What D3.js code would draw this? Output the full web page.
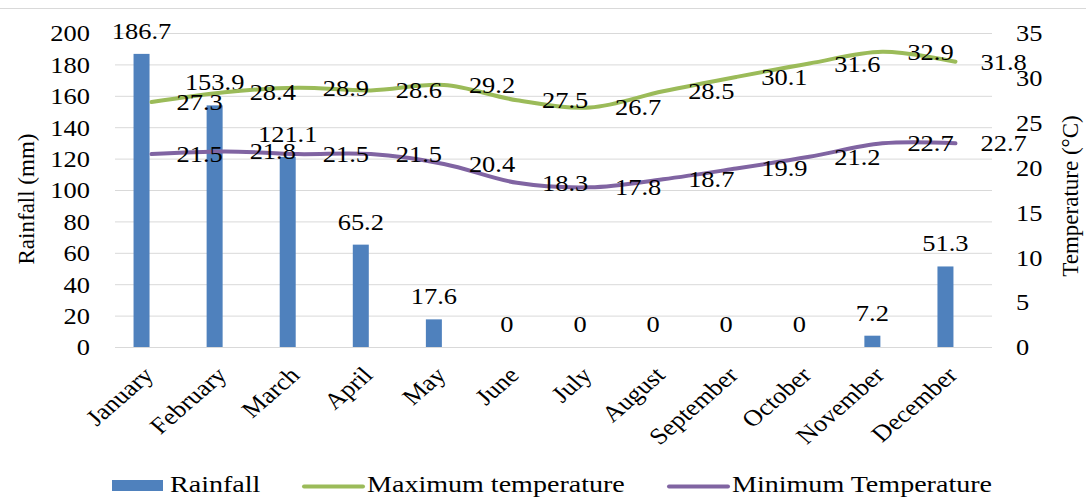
<!DOCTYPE html>
<html>
<head>
<meta charset="utf-8">
<script src="https://cdn.jsdelivr.net/npm/d3@7"></script>
<style>
  body { margin: 0; background: #fff; }
  svg { display: block; }
  svg text { font-family: "Liberation Serif", Tinos, "Times New Roman", "DejaVu Serif", serif; fill: #000; }
</style>
</head>
<body>
<svg id="chart" width="1086" height="497"></svg>
<script>
// Monthly climate data
const months = ["January", "February", "March", "April", "May", "June",
                "July", "August", "September", "October", "November", "December"];
const rainfall = [186.7, 153.9, 121.1, 65.2, 17.6, 0, 0, 0, 0, 0, 7.2, 51.3];
const maxTemp  = [27.3, 28.4, 28.9, 28.6, 29.2, 27.5, 26.7, 28.5, 30.1, 31.6, 32.9, 31.8];
const minTemp  = [21.5, 21.8, 21.5, 21.5, 20.4, 18.3, 17.8, 18.7, 19.9, 21.2, 22.7, 22.7];
const rainTicks = [0, 20, 40, 60, 80, 100, 120, 140, 160, 180, 200];
const tempTicks = [0, 5, 10, 15, 20, 25, 30, 35];

const FONT = '"Liberation Serif", Tinos, "Times New Roman", "DejaVu Serif", serif';
const FS = 23;      // font size
const SX = 1.15;    // horizontal stretch of the typeface
const colors = { rain: "#4F81BD", max: "#9BBB59", min: "#8064A2", grid: "#D9D9D9" };

const svg = d3.select("#chart");
const plotL = 115, plotR = 992, plotT = 33, plotB = 347;

const x = d3.scaleBand().domain(months).range([plotL, plotR]);
const cx = m => x(m) + x.bandwidth() / 2;
const yR = d3.scaleLinear().domain([0, 200]).range([plotB, plotT]);
const yT = d3.scaleLinear().domain([0, 35]).range([plotB, plotT]);

// outer frame line at the top
svg.append("line").attr("x1", 0).attr("x2", 1086).attr("y1", 8.5).attr("y2", 8.5)
  .attr("stroke", colors.grid).attr("stroke-width", 1);

// horizontal gridlines
svg.append("g").attr("transform", `translate(${plotL},0)`)
  .call(d3.axisLeft(yR).tickValues(rainTicks).tickSize(-(plotR - plotL)).tickFormat(""))
  .call(g => g.select(".domain").remove())
  .call(g => g.selectAll("line").attr("stroke", colors.grid));

// helper for stretched horizontal text
function label(parent, tx, ty, str, anchor, sx = SX) {
  return parent.append("text")
    .attr("transform", `translate(${tx},${ty}) scale(${sx},1)`)
    .attr("text-anchor", anchor)
    .attr("font-family", FONT)
    .attr("font-size", FS)
    .text(str);
}

// left axis
svg.append("g").attr("transform", `translate(${plotL},0)`)
  .call(d3.axisLeft(yR).tickValues(rainTicks).tickSize(0).tickPadding(25))
  .attr("font-family", FONT)
  .call(g => g.select(".domain").remove())
  .call(g => g.selectAll("text")
    .attr("font-size", FS)
    .attr("dy", "0.34em")
    .attr("x", -25 / SX)
    .attr("transform", `scale(${SX},1)`));

// right axis
svg.append("g").attr("transform", `translate(${plotR},0)`)
  .call(d3.axisRight(yT).tickValues(tempTicks).tickSize(0).tickPadding(24))
  .attr("font-family", FONT)
  .call(g => g.select(".domain").remove())
  .call(g => g.selectAll("text")
    .attr("font-size", FS)
    .attr("dy", "0.34em")
    .attr("x", 24 / SX)
    .attr("transform", `scale(${SX},1)`));

// category axis (rotated month names)
svg.append("g").attr("transform", `translate(0,${plotB})`)
  .call(d3.axisBottom(x).tickSize(0))
  .attr("font-family", FONT)
  .call(g => g.select(".domain").remove())
  .call(g => g.selectAll("text")
    .attr("font-size", FS)
    .attr("text-anchor", "end")
    .attr("x", null).attr("y", null).attr("dy", "0.34em")
    .attr("transform", `translate(-3,24) scale(${SX},1) rotate(-45)`));

// axis titles
svg.append("text")
  .attr("transform", `translate(34,199) rotate(-90)`)
  .attr("font-family", FONT)
  .attr("text-anchor", "middle").attr("font-size", FS).text("Rainfall (mm)");
svg.append("text")
  .attr("transform", `translate(1078,196) rotate(-90)`)
  .attr("font-family", FONT)
  .attr("text-anchor", "middle").attr("font-size", FS).text("Temperature (°C)");

// rainfall bars
const barW = 16, barShift = -10;
svg.append("g").selectAll("rect").data(months).join("rect")
  .attr("x", (m) => cx(m) + barShift - barW / 2)
  .attr("width", barW)
  .attr("y", (m, i) => yR(rainfall[i]))
  .attr("height", (m, i) => plotB - yR(rainfall[i]))
  .attr("fill", colors.rain);

const barLabels = svg.append("g");
months.forEach((m, i) => {
  label(barLabels, cx(m) + barShift, yR(rainfall[i]) - 23 + 8, String(rainfall[i]), "middle");
});

// temperature lines
const line = d3.line().x((d, i) => cx(months[i])).y(d => yT(d)).curve(d3.curveCatmullRom.alpha(0.5));
[[maxTemp, colors.max], [minTemp, colors.min]].forEach(([vals, col]) => {
  svg.append("path").datum(vals)
    .attr("d", line)
    .attr("fill", "none")
    .attr("stroke", col)
    .attr("stroke-width", 4)
    .attr("stroke-linecap", "round")
    .attr("stroke-linejoin", "round");
});

const tempLabels = svg.append("g");
[maxTemp, minTemp].forEach(vals => {
  months.forEach((m, i) => {
    label(tempLabels, cx(m) + 25, yT(vals[i]) + 8, String(vals[i]), "start");
  });
});

// legend
const LSX = 1.22;
const lg = svg.append("g");
lg.append("rect").attr("x", 112).attr("y", 480).attr("width", 51).attr("height", 11).attr("fill", colors.rain);
label(lg, 170, 492, "Rainfall", "start", LSX);
lg.append("line").attr("x1", 304).attr("x2", 363).attr("y1", 486.5).attr("y2", 486.5)
  .attr("stroke", colors.max).attr("stroke-width", 4).attr("stroke-linecap", "round");
label(lg, 367, 492, "Maximum temperature", "start", LSX);
lg.append("line").attr("x1", 669).attr("x2", 728).attr("y1", 486.5).attr("y2", 486.5)
  .attr("stroke", colors.min).attr("stroke-width", 4).attr("stroke-linecap", "round");
label(lg, 732, 492, "Minimum Temperature", "start", LSX);
</script>
</body>
</html>
